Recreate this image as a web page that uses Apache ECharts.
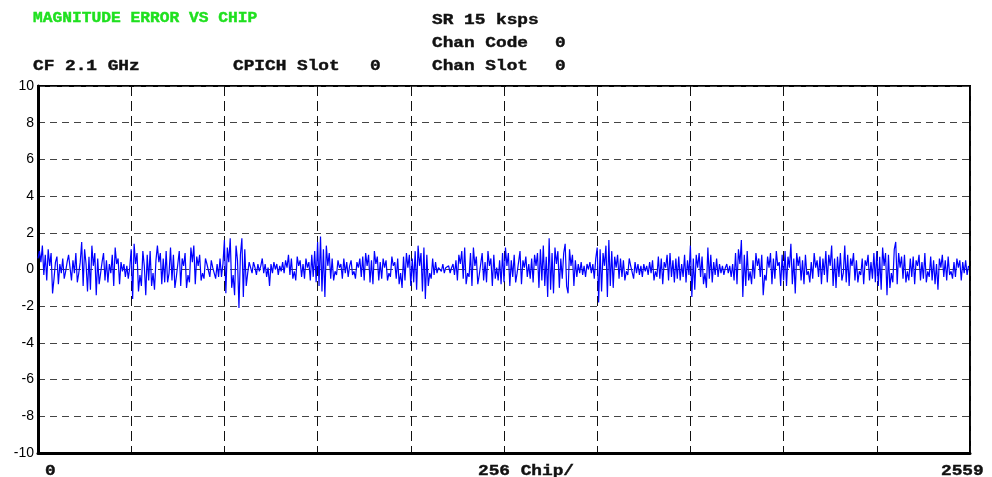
<!DOCTYPE html>
<html>
<head>
<meta charset="utf-8">
<script src="https://cdn.jsdelivr.net/npm/echarts@6/dist/echarts.min.js"></script>
<style>
html,body{margin:0;padding:0;background:#fff;}
#chart{width:992px;height:477px;}
</style>
</head>
<body>
<div id="chart"></div>
<script>
// Magnitude error (%) vs chip, one value every 4 chips, split per 256-chip division
var CHIP_STEP = 4;
var seg0 = [0.6,1.0,0.4,1.3,-0.3,0.8,-0.6,1.1,0.2,0.9,-1.3,-0.5,0.4,0.7,-0.8,0.3,-0.2,0.6,-0.5,-0.1,0.4,0.8,0.1,-0.6,0.5,-0.2,0.9,-0.7,-0.2,0.4,1.5,-0.9,1.1,0.3,-1.2,0.7,-1.1,1.3,0.2,0.9,-1.4,0.6,-0.8,-0.2,0.4,0.9,-0.6,0.5,-0.7,0.3,-0.2,0.8,-0.9,1.2,0.3,0.6,-0.8,0.4,-0.1,0.3,-0.4,0.2,-0.5,0.1];
var seg1 = [1.1,-1.6,1.4,0.3,0.9,-1.2,-0.3,-0.9,1.0,0.2,-1.4,0.8,-0.6,1.0,-0.9,-0.2,-1.1,0.5,1.3,0.4,0.9,-0.8,0.6,-0.7,1.0,-0.7,-0.2,1.2,-0.6,0.8,-1.0,-0.4,0.3,1.0,-0.9,0.6,0.2,0.9,-1.0,-0.3,-0.7,1.2,0.4,1.3,-0.8,0.7,0.2,0.8,-0.6,-0.2,-0.5,0.6,0.3,0.4,-0.4,0.5,0.1,0.2,-0.5,0.3,-0.4,0.6,-0.4,0.3];
var seg2 = [1.6,-1.3,1.2,0.4,1.7,-1.0,-0.3,-1.4,1.3,0.5,-2.1,0.8,1.7,-1.5,1.1,-0.9,-0.2,0.4,0.3,-0.2,0.4,0.1,-0.3,0.3,-0.1,0.2,0.6,-0.2,0.3,-0.4,0.1,-0.9,0.3,-0.2,0.4,0.0,0.3,-0.3,0.2,-0.1,0.4,-0.2,0.5,0.1,0.8,-0.3,0.6,-0.5,-0.1,-0.6,0.7,0.2,0.5,-0.4,0.3,-0.5,0.6,0.1,0.4,-0.6,0.8,-0.4,1.0,-0.7];
var seg3 = [1.5,-0.9,1.8,-1.2,1.1,-1.5,1.3,0.2,0.9,-0.5,0.6,-0.6,-0.1,-0.3,0.5,0.1,0.3,-0.5,0.6,-0.2,0.4,-0.4,0.2,0.5,-0.3,-0.1,-0.5,0.4,0.1,0.6,-0.4,0.7,-0.6,0.9,0.2,0.8,-0.7,0.5,-0.8,1.0,0.3,0.7,-0.6,0.4,-0.5,0.6,0.1,0.5,-0.6,-0.2,-0.4,0.7,0.2,0.4,-0.5,0.6,-0.8,-0.2,-1.0,0.7,-0.6,0.9,0.1,0.8];
var seg4 = [-0.9,0.6,-0.7,1.0,-1.1,1.3,0.2,0.9,-1.2,1.2,-1.6,0.8,-0.9,-0.2,-0.5,0.6,-0.3,0.4,-0.2,0.1,0.2,-0.1,0.3,-0.2,0.1,0.0,0.2,-0.2,0.1,0.3,-0.3,0.5,-0.6,0.8,0.3,1.0,-0.5,1.2,-0.8,-0.2,-0.4,0.9,-0.9,1.2,0.2,0.7,-0.8,-0.3,-0.3,0.9,-0.6,0.4,-0.7,1.0,0.2,0.6,-0.9,0.8,-0.5,0.1,-0.6,0.5,-0.8,0.9];
var seg5 = [-0.7,1.2,0.2,0.9,-0.9,0.5,-0.4,0.8,-0.7,-0.2,-0.3,1.0,-0.8,0.5,0.1,0.7,-0.4,0.3,-0.5,0.6,-0.7,0.8,0.2,0.9,-1.0,1.1,-0.6,1.3,-0.9,0.7,-1.5,1.7,-1.1,0.9,-1.3,1.2,0.3,1.0,-1.0,0.6,-0.5,0.9,1.4,-0.9,-1.3,1.1,0.2,0.8,-0.9,0.5,-0.4,0.3,-0.2,0.4,-0.3,0.2,-0.4,0.3,0.0,0.4,-0.2,0.3,-0.5,0.6];
var seg6 = [1.2,-1.8,1.1,-1.2,0.9,0.2,1.3,-1.5,1.6,-0.9,1.0,-1.0,0.7,0.1,0.8,-0.5,0.6,-0.4,0.5,-0.6,-0.1,-0.3,0.6,0.2,0.3,-0.5,0.4,-0.2,0.3,-0.3,0.2,-0.4,0.3,-0.1,0.2,-0.3,0.4,-0.2,0.5,-0.6,-0.1,-0.4,0.7,-0.5,0.6,-0.8,0.4,0.1,0.8,-0.6,0.9,-0.4,0.5,-0.7,0.6,-0.5,0.7,-0.6,0.3,-0.4,0.8,-0.7,0.5,-0.3];
var seg7 = [1.3,-1.5,0.6,-1.1,0.8,0.1,0.9,-0.4,0.7,-0.8,-0.2,-1.0,1.2,-0.5,0.8,-0.7,0.4,-0.3,0.6,-0.4,0.3,-0.2,0.2,-0.3,0.1,0.3,-0.2,0.2,-0.4,0.3,-0.6,0.9,-0.8,1.1,0.3,1.6,-1.5,0.8,-0.9,1.0,-0.6,-0.1,-0.8,0.5,-0.5,0.9,0.2,0.6,-0.4,0.8,-1.4,-0.3,-0.6,0.7,0.1,0.9,-0.8,0.6,-0.5,1.0,0.2,0.4,-0.9,0.8];
var seg8 = [-0.6,1.0,-0.9,0.7,0.1,1.4,-0.8,0.6,-1.3,0.9,0.2,0.7,-0.6,0.5,-0.8,0.8,-0.3,-0.1,-0.7,0.4,-0.5,0.9,0.1,0.5,-0.4,0.7,-0.8,0.6,-0.3,1.0,-0.7,0.8,0.2,1.3,-0.9,0.6,-1.0,0.7,-0.4,0.9,-0.6,-0.2,1.3,-0.7,0.8,-0.9,0.6,0.2,0.9,-0.6,0.5,-0.7,-0.1,-0.3,0.6,-0.8,0.5,0.2,0.8,-0.6,0.4,-0.5,0.9,-0.7];
var seg9 = [1.0,-0.9,0.7,-1.1,1.2,0.2,0.9,-1.4,0.8,-1.0,-0.2,-0.7,1.1,1.5,-0.8,0.9,0.1,0.7,-0.5,0.8,-0.7,-0.1,-0.6,0.6,-0.4,0.7,-0.8,0.5,0.2,0.8,-0.6,0.4,-0.5,0.9,-0.7,-0.1,-0.4,0.7,-0.6,0.5,-0.8,0.3,-1.1,0.6,0.1,0.8,-0.4,0.5,-0.6,0.7,-0.3,-0.1,-0.5,0.4,-0.4,0.6,0.1,0.5,-0.6,0.4,-0.2,0.5,-0.3,0.2];

var yTicks = [-10,-8,-6,-4,-2,0,2,4,6,8,10];
var xLabels = ['0', '256 Chip/', '2559'];
var headerTitle = 'MAGNITUDE ERROR VS CHIP';
var headerLeft = ['CF 2.1 GHz'];
var headerMid = ['CPICH Slot', '0'];
var headerRight = ['SR 15 ksps', 'Chan Code', '0', 'Chan Slot', '0'];

var values = [].concat(seg0, seg1, seg2, seg3, seg4, seg5, seg6, seg7, seg8, seg9);
var data = values.map(function (v, i) { return [i * CHIP_STEP, v]; });

var chart = echarts.init(document.getElementById('chart'), null, {renderer: 'canvas'});
var monoFont = 'bold 14px "Liberation Mono", "Courier New", monospace';
function txt(s, x, y, color, sx) {
  return {
    type: 'text', x: x, y: y, scaleX: sx, scaleY: 1, silent: true,
    style: {text: s, font: monoFont, fill: color, stroke: color, lineWidth: 0.4, textAlign: 'left', textVerticalAlign: 'middle'}
  };
}
var sxB = 1.27;
var graphics = [
  txt(headerTitle, 33, 18, '#1fe01f', 1.16),
  txt(headerRight[0], 432, 20, '#111', sxB),
  txt(headerRight[1], 432, 43, '#111', sxB),
  txt(headerRight[2], 555, 43, '#111', sxB),
  txt(headerLeft[0], 33, 66, '#111', sxB),
  txt(headerMid[0], 233, 66, '#111', sxB),
  txt(headerMid[1], 370, 66, '#111', sxB),
  txt(headerRight[3], 432, 66, '#111', sxB),
  txt(headerRight[4], 555, 66, '#111', sxB),
  txt(xLabels[0], 45, 471, '#111', sxB),
  txt(xLabels[1], 478, 471, '#111', sxB),
  txt(xLabels[2], 941, 471, '#111', sxB)
];

chart.setOption({
  animation: false,
  backgroundColor: '#fff',
  grid: {left: 38, right: 22, top: 86, bottom: 24, show: true, borderColor: '#000', borderWidth: 2, backgroundColor: 'transparent'},
  xAxis: {
    type: 'value', min: 0, max: 2560, interval: 256,
    axisLine: {show: true, onZero: false, lineStyle: {color: '#000', width: 3}},
    axisTick: {show: false}, axisLabel: {show: false},
    splitLine: {show: true, lineStyle: {color: '#111', width: 1, type: [10, 5]}}
  },
  yAxis: {
    type: 'value', min: yTicks[0], max: yTicks[yTicks.length - 1], interval: 2,
    axisLine: {show: true, onZero: false, lineStyle: {color: '#000', width: 3}},
    axisTick: {show: false},
    axisLabel: {show: true, color: '#000', fontSize: 14, fontFamily: '"Liberation Sans", Arial, sans-serif', margin: 4},
    splitLine: {show: true, lineStyle: {color: '#444', width: 1, type: [7, 5]}}
  },
  series: [{
    type: 'line', data: data, showSymbol: false, symbol: 'none',
    lineStyle: {color: '#0000ff', width: 1.2}, z: 3
  }],
  graphic: graphics
});
</script>
</body>
</html>
